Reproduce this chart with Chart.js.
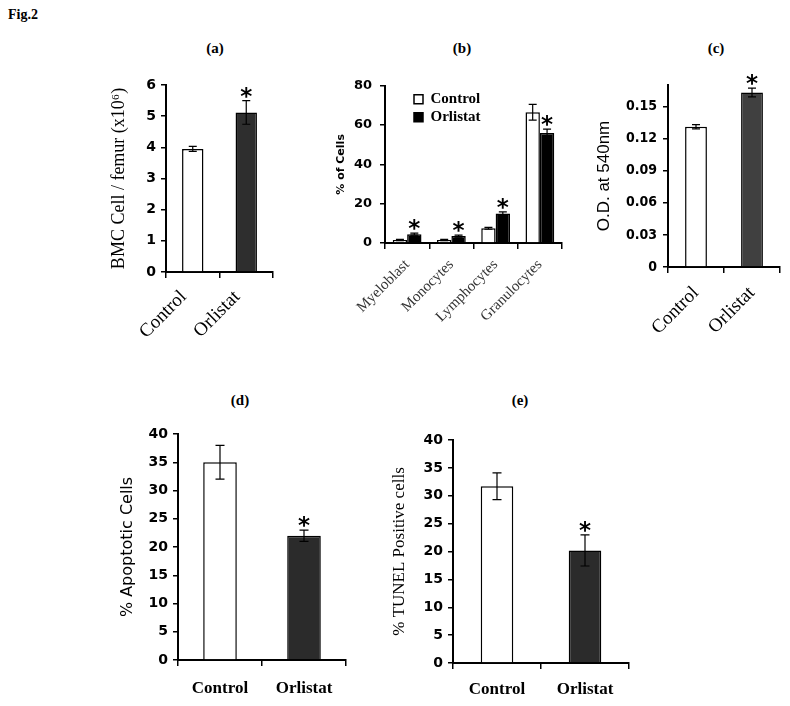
<!DOCTYPE html>
<html>
<head>
<meta charset="utf-8">
<script src="https://cdn.jsdelivr.net/npm/chart.js@4.4.1/dist/chart.umd.min.js"></script>
<style>
  body { margin: 0; background: #fff; }
  #page { position: relative; width: 790px; height: 706px; background: #fff; overflow: hidden; }
  canvas { position: absolute; }
  .title { position: absolute; font-family: "Liberation Serif", serif; font-weight: bold; font-size: 15px; transform: translate(-50%, -50%); white-space: nowrap; }
  .fig { position: absolute; left: 8px; top: 7px; font-family: "Liberation Serif", serif; font-weight: bold; font-size: 14px; }
</style>
</head>
<body>
<div id="page">
  <div class="fig">Fig.2</div>
  <div class="title" style="left:215px;top:48px">(a)</div>
  <div class="title" style="left:462px;top:48px">(b)</div>
  <div class="title" style="left:716px;top:48px">(c)</div>
  <div class="title" style="left:240px;top:400px">(d)</div>
  <div class="title" style="left:520px;top:400px">(e)</div>
  <canvas id="chartA" width="180" height="290" style="left:100px;top:70px"></canvas>
  <canvas id="chartB" width="260" height="270" style="left:310px;top:70px"></canvas>
  <canvas id="chartC" width="205" height="290" style="left:585px;top:70px"></canvas>
  <canvas id="chartD" width="260" height="290" style="left:100px;top:415px"></canvas>
  <canvas id="chartE" width="260" height="290" style="left:380px;top:415px"></canvas>
</div>
<script>
const groups = ['Control', 'Orlistat'];

// (a) bone marrow cells per femur (x10^6)
const bmcValues = [3.95, 5.12];
const bmcErrors = [0.08, 0.38];
const bmcStars = [false, true];
const bmcTicks = [0, 1, 2, 3, 4, 5, 6];

// (b) differential count, % of cells
const cellTypes = ['Myeloblast', 'Monocytes', 'Lymphocytes', 'Granulocytes'];
const diffControl = [1.5, 1.5, 7.5, 66.5];
const diffControlErr = [0.3, 0.3, 0.5, 4];
const diffOrlistat = [4.5, 3.5, 15, 56];
const diffOrlistatErr = [0.5, 0.5, 0.8, 2];
const diffStars = [true, true, true, true];
const diffTicks = [0, 20, 40, 60, 80];

// (c) O.D. at 540nm
const odValues = [0.131, 0.163];
const odErrors = [0.002, 0.004];
const odStars = [false, true];
const odTicks = [0, 0.03, 0.06, 0.09, 0.12, 0.15];

// (d) % apoptotic cells
const apoValues = [35, 22];
const apoErrors = [3, 1];
const apoStars = [false, true];

// (e) % TUNEL positive cells
const tunelValues = [31.7, 20.2];
const tunelErrors = [2.4, 2.8];
const tunelStars = [false, true];

const pctTicks = [0, 5, 10, 15, 20, 25, 30, 35, 40];

Chart.defaults.color = '#000';
Chart.defaults.animation = false;
Chart.defaults.events = [];

// error bars and significance stars, drawn on top of the bars
const errorBars = {
    id: 'errorBars',
    afterDatasetsDraw(chart, args, opts) {
        const ctx = chart.ctx;
        const yScale = chart.scales.y;
        ctx.save();
        ctx.strokeStyle = '#000';
        ctx.lineWidth = opts.lineWidth;
        chart.data.datasets.forEach((ds, i) => {
            const meta = chart.getDatasetMeta(i);
            const errs = opts.errors[i];
            const stars = opts.stars[i] || [];
            meta.data.forEach((bar, j) => {
                const top = yScale.getPixelForValue(ds.data[j] + errs[j]);
                const bot = yScale.getPixelForValue(ds.data[j] - errs[j]);
                const w = opts.cap / 2;
                ctx.beginPath();
                ctx.moveTo(bar.x, top); ctx.lineTo(bar.x, bot);
                ctx.moveTo(bar.x - w, top); ctx.lineTo(bar.x + w, top);
                ctx.moveTo(bar.x - w, bot); ctx.lineTo(bar.x + w, bot);
                ctx.stroke();
                if (stars[j]) {
                    ctx.font = 'bold 23px "DejaVu Sans"';
                    ctx.fillStyle = '#000';
                    ctx.textAlign = 'center';
                    ctx.textBaseline = 'alphabetic';
                    ctx.fillText('*', bar.x, top + 3);
                }
            });
        });
        ctx.restore();
    }
};

// moves the chartArea legend of panel (b) to its spot
const legendShift = {
    id: 'legendShift',
    afterLayout(chart, args, opts) {
        if (!opts.on) return;
        chart.legend.left = chart.chartArea.left + opts.dx;
        chart.legend.top = chart.chartArea.top + opts.dy;
    }
};

function xAxis(height, font, rotation, pad, color, shift) {
    return {
        offset: true,
        afterFit: s => { s.height = height; },
        border: { display: true, color: '#000', width: 2 },
        grid: { display: true, offset: true, drawOnChartArea: false, drawTicks: true, tickLength: 6, color: '#000', lineWidth: 1.5 },
        ticks: { font: font, color: color || '#000', padding: pad, labelOffset: shift || 0, minRotation: rotation, maxRotation: rotation, autoSkip: false }
    };
}

function yAxis(width, tickList, max, font, pad, title, fmt) {
    return {
        min: 0,
        max: max,
        afterFit: s => { s.width = width; },
        afterBuildTicks: s => { s.ticks = tickList.map(v => ({ value: v })); },
        border: { display: true, color: '#000', width: 2 },
        grid: { display: true, drawOnChartArea: false, drawTicks: true, tickLength: 5, color: '#000', lineWidth: 1.5 },
        ticks: { font: font, padding: pad, callback: fmt || (v => v) },
        title: title
    };
}

const boldTick = { family: 'DejaVu Sans', weight: 'bold', size: 14 };

new Chart(document.getElementById('chartA'), {
    type: 'bar',
    data: {
        labels: groups,
        datasets: [{ data: bmcValues, backgroundColor: ['#ffffff', '#2e2e2e'], borderColor: '#000', borderWidth: 1.5, categoryPercentage: 1, barPercentage: 0.4 }]
    },
    plugins: [errorBars],
    options: {
        responsive: false,
        layout: { padding: { top: 15, right: 7, left: 0, bottom: 0 } },
        plugins: {
            legend: { display: false },
            tooltip: { enabled: false },
            errorBars: { errors: [bmcErrors], stars: [bmcStars], cap: 8, lineWidth: 1.2 }
        },
        scales: {
            x: xAxis(88, { family: 'Liberation Serif', size: 19 }, 45, 8, '#000', -9),
            y: yAxis(66, bmcTicks, 6, boldTick, 5, {
                display: true, text: 'BMC Cell / femur (x10⁶)',
                font: { family: 'Liberation Serif', size: 18 }, padding: { top: 8, bottom: 0 }
            })
        }
    }
});

new Chart(document.getElementById('chartB'), {
    type: 'bar',
    data: {
        labels: cellTypes,
        datasets: [
            { label: 'Control', data: diffControl, backgroundColor: '#ffffff', borderColor: '#000', borderWidth: 1.5, categoryPercentage: 0.65, barPercentage: 1 },
            { label: 'Orlistat', data: diffOrlistat, backgroundColor: '#000000', borderColor: '#000', borderWidth: 1.5, categoryPercentage: 0.65, barPercentage: 1 }
        ]
    },
    plugins: [errorBars, legendShift],
    options: {
        responsive: false,
        layout: { padding: { top: 15, right: 8, left: 0, bottom: 0 } },
        plugins: {
            legend: {
                display: true, position: 'chartArea', align: 'start',
                labels: { boxWidth: 9, boxHeight: 9, padding: 3, color: '#000', font: { family: 'Liberation Serif', weight: 'bold', size: 15 } }
            },
            legendShift: { on: true, dx: 26, dy: 3 },
            tooltip: { enabled: false },
            errorBars: { errors: [diffControlErr, diffOrlistatErr], stars: [[], diffStars], cap: 8, lineWidth: 1.2 }
        },
        scales: {
            x: xAxis(97, { family: 'Liberation Serif', size: 15 }, 45, 7, '#333'),
            y: yAxis(75, diffTicks, 80, { family: 'DejaVu Sans', weight: 'bold', size: 13 }, 8, {
                display: true, text: '% of Cells',
                font: { family: 'DejaVu Sans', weight: 'bold', size: 11 }, padding: { top: 25, bottom: 0 }
            })
        }
    }
});

new Chart(document.getElementById('chartC'), {
    type: 'bar',
    data: {
        labels: groups,
        datasets: [{ data: odValues, backgroundColor: ['#ffffff', '#404040'], borderColor: '#000', borderWidth: 1.5, categoryPercentage: 1, barPercentage: 0.39 }]
    },
    plugins: [errorBars],
    options: {
        responsive: false,
        layout: { padding: { top: 15, right: 10, left: 0, bottom: 0 } },
        plugins: {
            legend: { display: false },
            tooltip: { enabled: false },
            errorBars: { errors: [odErrors], stars: [odStars], cap: 8, lineWidth: 1.2 }
        },
        scales: {
            x: xAxis(93, { family: 'Liberation Serif', size: 19 }, 45, 9),
            y: yAxis(83, odTicks, 0.17, { family: 'DejaVu Sans Condensed', weight: 'bold', size: 14 }, 6, {
                display: true, text: 'O.D. at 540nm',
                font: { family: 'Liberation Sans', size: 17 }, padding: { top: 9, bottom: 0 }
            }, v => String(v))
        }
    }
});

new Chart(document.getElementById('chartD'), {
    type: 'bar',
    data: {
        labels: groups,
        datasets: [{ data: apoValues, backgroundColor: ['#ffffff', '#2b2b2b'], borderColor: '#000', borderWidth: 1.5, categoryPercentage: 1, barPercentage: 0.4 }]
    },
    plugins: [errorBars],
    options: {
        responsive: false,
        layout: { padding: { top: 19, right: 14, left: 0, bottom: 0 } },
        plugins: {
            legend: { display: false },
            tooltip: { enabled: false },
            errorBars: { errors: [apoErrors], stars: [apoStars], cap: 9, lineWidth: 1.2 }
        },
        scales: {
            x: xAxis(45, { family: 'Liberation Serif', weight: 'bold', size: 17 }, 0, 12),
            y: yAxis(78, pctTicks, 40, boldTick, 5, {
                display: true, text: '% Apoptotic Cells',
                font: { family: 'DejaVu Sans', size: 16 }, padding: { top: 18, bottom: 0 }
            })
        }
    }
});

new Chart(document.getElementById('chartE'), {
    type: 'bar',
    data: {
        labels: groups,
        datasets: [{ data: tunelValues, backgroundColor: ['#ffffff', '#2b2b2b'], borderColor: '#000', borderWidth: 1.5, categoryPercentage: 1, barPercentage: 0.37 }]
    },
    plugins: [errorBars],
    options: {
        responsive: false,
        layout: { padding: { top: 25, right: 11, left: 0, bottom: 0 } },
        plugins: {
            legend: { display: false },
            tooltip: { enabled: false },
            errorBars: { errors: [tunelErrors], stars: [tunelStars], cap: 9, lineWidth: 1.2 }
        },
        scales: {
            x: xAxis(42, { family: 'Liberation Serif', weight: 'bold', size: 17 }, 0, 10),
            y: yAxis(73, pctTicks, 40, boldTick, 5, {
                display: true, text: '% TUNEL Positive cells',
                font: { family: 'Liberation Serif', size: 17 }, padding: { top: 9, bottom: 0 }
            })
        }
    }
});
</script>
</body>
</html>
